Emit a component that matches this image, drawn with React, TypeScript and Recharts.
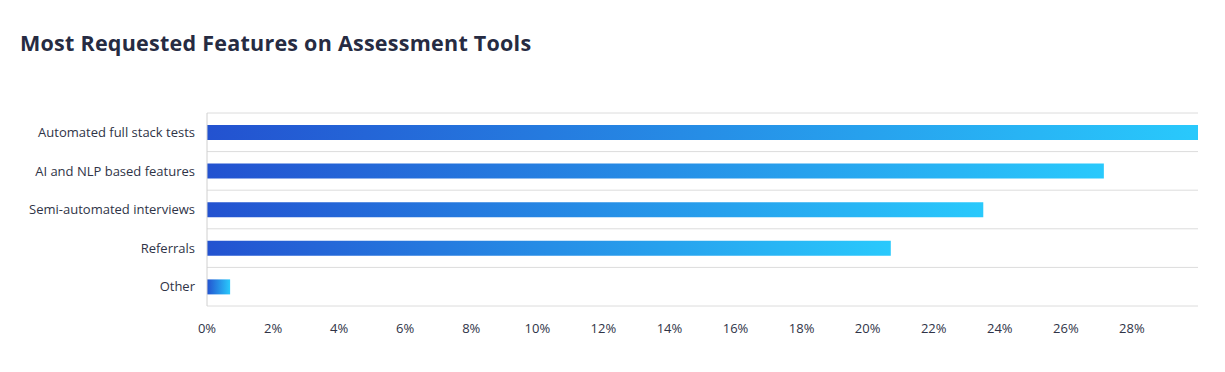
import React from "react";
import {
  BarChart,
  Bar,
  XAxis,
  YAxis,
  CartesianGrid,
} from "recharts";

const categories = [
  "Automated full stack tests",
  "AI and NLP based features",
  "Semi-automated interviews",
  "Referrals",
  "Other",
];
const values = [30, 27.15, 23.5, 20.7, 0.7];
const xTicks = [0, 2, 4, 6, 8, 10, 12, 14, 16, 18, 20, 22, 24, 26, 28];

const data = categories.map((name, i) => ({ name, value: values[i] }));

const textColor = "#2f3447";
const fontFamily = "'Open Sans', Lato, sans-serif";

const App = () => {
  return (
    <div
      style={{
        position: "absolute",
        left: 0,
        top: 0,
        width: 1225,
        height: 372,
        background: "#fff",
        fontFamily,
      }}
    >
      <div
        style={{
          position: "absolute",
          left: 20,
          top: 28,
          fontSize: 21.5,
          fontWeight: 700,
          letterSpacing: 0.25,
          color: "#262b42",
          whiteSpace: "nowrap",
        }}
      >
        Most Requested Features on Assessment Tools
      </div>
      <div style={{ position: "absolute", left: 0, top: 0 }}>
        <BarChart
          width={1225}
          height={372}
          data={data}
          layout="vertical"
          margin={{ top: 113, right: 27, left: 0, bottom: 36 }}
        >
          <defs>
            <linearGradient id="barGrad" x1="0" y1="0" x2="1" y2="0">
              <stop offset="0%" stopColor="#2352d0" />
              <stop offset="100%" stopColor="#29c9fc" />
            </linearGradient>
          </defs>
          <CartesianGrid
            vertical={false}
            stroke="#dcdcdc"
            horizontalCoordinatesGenerator={({ offset }: any) =>
              categories
                .map((_, i) => offset.top + (i * offset.height) / categories.length)
                .concat(offset.top + offset.height)
            }
          />
          <XAxis
            type="number"
            domain={[0, 30]}
            ticks={xTicks}
            tickFormatter={(v: number) => `${v}%`}
            axisLine={false}
            tickLine={false}
            tickMargin={12}
            height={30}
            tick={{ fill: textColor, fontSize: 13, fontFamily }}
          />
          <YAxis
            type="category"
            dataKey="name"
            width={207}
            axisLine={{ stroke: "#d0d0d0" }}
            tickLine={false}
            tickMargin={6}
            tick={{ fill: textColor, fontSize: 13, fontFamily }}
          />
          <Bar
            dataKey="value"
            fill="url(#barGrad)"
            barSize={15}
            isAnimationActive={false}
          />
        </BarChart>
      </div>
    </div>
  );
};

export default App;
